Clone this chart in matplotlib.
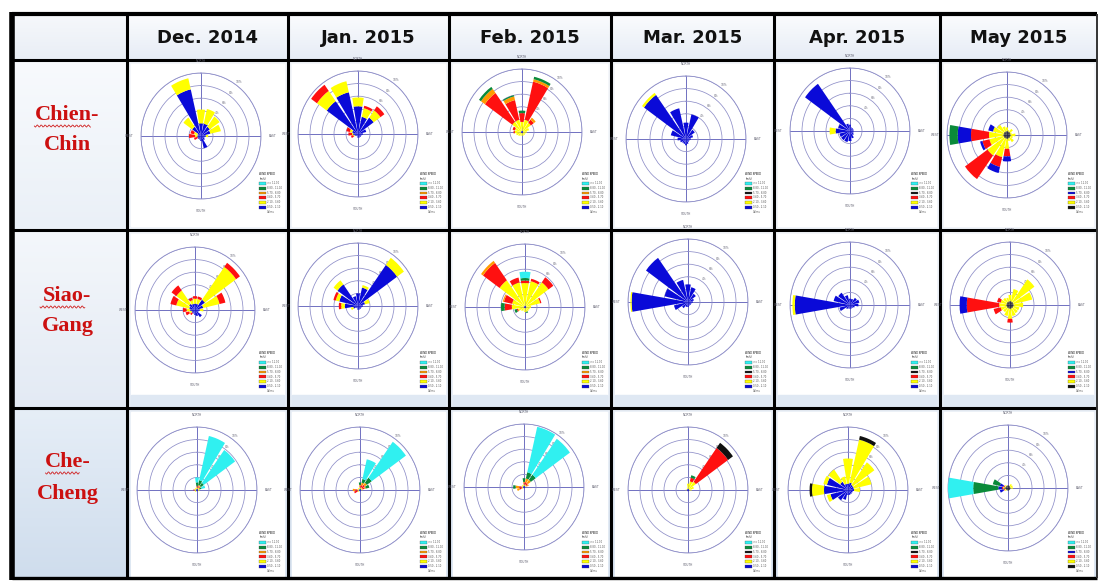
import numpy as np
import matplotlib
matplotlib.use('Agg')
import matplotlib.pyplot as plt
from matplotlib.patches import Rectangle, Patch

# ---------------- data ----------------
DIRS = ['N', 'NNE', 'NE', 'ENE', 'E', 'ESE', 'SE', 'SSE',
        'S', 'SSW', 'SW', 'WSW', 'W', 'WNW', 'NW', 'NNW']
MONTHS = ['Dec. 2014', 'Jan. 2015', 'Feb. 2015', 'Mar. 2015', 'Apr. 2015', 'May 2015']
STATIONS = [('Chien-', 'Chin'), ('Siao-', 'Gang'), ('Che-', 'Cheng')]
SPEED_LABELS = ['0.50 - 2.10', '2.10 - 3.60', '3.60 - 5.70',
                '5.70 - 8.80', '8.80 - 11.10', '>= 11.10']
RING_LABELS = ['', '4%', '6%', '8%', '10%']

BLUE, YELLOW, RED, ORANGE = '#0a0ad8', '#ffff00', '#ff1010', '#ff9a00'
GREEN, CYAN, BLACK = '#0a8a3a', '#30f0f0', '#101010'
PAL_A = [BLUE, YELLOW, RED, ORANGE, GREEN, CYAN]   # Dec - Feb
PAL_B = [BLUE, YELLOW, RED, BLACK, GREEN, CYAN]    # Mar - Apr
PAL_C = [BLACK, YELLOW, RED, BLUE, GREEN, CYAN]    # May
MONTH_PALETTES = [PAL_A, PAL_A, PAL_A, PAL_B, PAL_B, PAL_C]

# segment lengths (ring units, 5 = outer ring), directions N, NNE, ... NNW
CC_DEC = [[1.0, 1.1], [1.0, 1.2], [0.9, 1.0], [0.8, 0.9], [0.4, 0.2], [0.3], [0.4], [1.0],
          [0.4], [0.3], [0.3], [0.3, 0.0, 0.3], [0.3, 0.2, 0.5], [0.3, 0.3, 0.3], [0.9, 0.9], [3.8, 0.9]]
CC_JAN = [[2.2, 0.7], [1.4, 0.7, 0.2], [1.6, 0.7, 0.4], [0.7], [0.4], [0.3], [0.3], [0.3],
          [0.3], [0.2], [0.2], [0.3, 0.1, 0.2], [0.4, 0.1, 0.3], [0.5, 0.2, 0.3], [3.2, 1.0, 0.6], [3.4, 0.9]]
CC_FEB = [[0.1, 0.7, 0.7, 0.0, 0.2], [0.1, 0.9, 3.1, 0.2, 0.2], [0.1, 0.8, 0.3, 0.2], [0.1, 0.5],
          [0.1, 0.3], [0.1, 0.2], [0.1, 0.2], [0.1, 0.2], [0.1, 0.2], [0.1, 0.2], [0.1, 0.3], [0.1, 0.4],
          [0.1, 0.5, 0.1], [0.1, 0.5, 0.2], [0.1, 0.9, 2.8, 0.4, 0.2], [0.1, 0.9, 1.6, 0.3, 0.1]]
CC_MAR = [[1.3], [2.0], [0.9], [0.6], [0.4], [0.3], [0.3], [0.4],
          [0.5], [0.4], [0.4], [0.5], [0.7], [1.3], [4.3, 0.2], [2.5]]
CC_APR = [[0.5], [0.3], [0.3], [0.3], [0.3], [0.3], [0.4], [0.6],
          [0.8], [0.9], [0.9], [0.9], [1.2, 0.5], [1.0], [4.6], [0.6]]
CC_MAY = [[0.3, 0.3], [0.3, 0.1], [0.3, 0.3], [0.3, 0.1], [0.3, 0.4], [0.3, 0.2], [0.3, 0.4], [0.3, 0.2],
          [0.3, 0.8, 0.6, 0.4], [0.3, 1.5, 0.8, 0.5], [0.3, 1.7, 2.3], [0.3, 1.2, 0.6, 0.2],
          [0.3, 1.2, 1.5, 1.1, 0.7], [0.3, 0.9, 0.0, 0.4], [0.3, 0.7], [0.3, 0.4]]

SG_DEC = [[0.5, 0.4, 0.2], [0.5, 0.4, 0.2], [1.0, 3.2, 0.4], [0.7, 1.4, 0.5], [0.4, 0.3], [0.3], [0.7], [0.5],
          [0.4], [0.3], [0.3, 0.0, 0.2], [0.3, 0.2, 0.3], [0.4, 0.3, 0.3], [0.5, 1.1, 0.5], [0.6, 1.3, 0.5],
          [0.5, 0.3, 0.2]]
SG_JAN = [[1.0], [1.5, 0.2], [4.0, 0.7], [0.6, 0.4], [0.4], [0.3], [0.3], [0.3],
          [0.3], [0.2], [0.2], [0.4, 0.2], [1.1, 0.3, 0.2], [1.6, 0.3, 0.2], [2.1, 0.4], [0.8]]
SG_FEB = [[0.1, 1.8, 0.2, 0.0, 0.2, 0.5], [0.1, 2.0, 0.2], [0.1, 2.3, 0.5], [0.1, 1.2, 0.1], [0.1, 0.4],
          [0.1, 0.3], [0.1, 0.3], [0.1, 0.3, 0.0, 0.0, 0.1], [0.1, 0.3], [0.1, 0.2], [0.1, 0.3],
          [0.1, 0.5, 0.1, 0.0, 0.2], [0.1, 1.0, 0.6, 0.0, 0.3], [0.1, 1.0, 0.7, 0.1], [0.1, 2.5, 1.7, 0.2],
          [0.1, 1.9, 0.4]]
SG_MAR = [[1.4], [1.2], [0.8], [0.5], [0.4], [0.3], [0.3], [0.3],
          [0.4], [0.4], [0.6], [1.2], [4.7, 0.1], [2.0], [4.3], [1.8]]
SG_APR = [[0.5], [0.5], [0.7], [0.8], [0.7], [0.4], [0.3], [0.3],
          [0.3], [0.3], [0.4], [0.9], [4.6, 0.2], [1.4], [1.2], [0.8]]
SG_MAY = [[0.3, 0.5], [0.3, 1.0], [0.3, 2.2], [0.3, 1.6], [0.3, 0.8], [0.3, 0.5], [0.3, 0.5], [0.3, 0.6],
          [0.3, 0.8, 0.3], [0.3, 0.6], [0.3, 0.4], [0.3, 0.5, 0.6], [0.3, 0.6, 2.7, 0.6], [0.3, 0.5, 0.3],
          [0.3, 0.4], [0.3, 0.3]]

CH_DEC = [[0.1, 0.1, 0.1, 0.0, 0.3, 0.4], [0.1, 0.1, 0.1, 0.1, 0.4, 3.6], [0.1, 0.1, 0.1, 0.1, 0.3, 3.2],
          [0.1, 0.1, 0.0, 0.0, 0.2, 0.3], [0.1, 0.1], [0.1, 0.1], [0.1], [0.1], [0.1], [0.1], [0.1, 0.1],
          [0.1, 0.1], [0.1, 0.1, 0.1], [0.1, 0.1], [0.1, 0.1], [0.1, 0.1]]
CH_JAN = [[0.1, 0.1, 0.1, 0.1, 0.2], [0.1, 0.1, 0.2, 0.2, 0.3, 1.6], [0.1, 0.1, 0.3, 0.2, 0.5, 3.5],
          [0.1, 0.1, 0.2, 0.1, 0.3], [0.1, 0.1], [0.1], [0.1], [0.1], [0.1], [0.1], [0.1, 0.1],
          [0.1, 0.1, 0.3], [0.1, 0.1, 0.2, 0.2], [0.1, 0.1], [0.1, 0.1], [0.1, 0.1]]
CH_FEB = [[0.1, 0.1, 0.1, 0.1, 0.3], [0.1, 0.1, 0.2, 0.3, 0.5, 3.7], [0.1, 0.1, 0.2, 0.3, 0.5, 3.5],
          [0.1, 0.1, 0.1, 0.1], [0.1], [0.1], [0.1], [0.1], [0.1], [0.1], [0.1, 0.1],
          [0.1, 0.1, 0.2, 0.2], [0.1, 0.1, 0.2, 0.3, 0.2], [0.1, 0.1], [0.1, 0.1], [0.1, 0.1]]
CH_MAR = [[0.1, 0.4], [0.1, 0.6, 0.3, 0.0, 0.2], [0.1, 0.7, 3.3, 0.5], [0.1, 0.4], [0.1, 0.2], [0.1],
          [0.1], [0.1], [0.1], [0.1], [0.1], [0.1], [0.1, 0.1], [0.1], [0.1], [0.1, 0.1]]
CH_APR = [[0.5, 2.0], [0.6, 3.5, 0.0, 0.3], [0.5, 2.2], [0.5, 1.5], [0.5, 0.5], [0.4], [0.4], [0.4],
          [0.4], [0.8], [1.0], [1.5, 0.3], [2.0, 1.0, 0.0, 0.2], [1.8, 0.3], [0.8, 1.2], [0.5, 0.6]]
CH_MAY = [[0.2], [0.2], [0.2, 0.2], [0.2, 0.2], [0.2, 0.2], [0.2], [0.2], [0.2],
          [0.2], [0.2], [0.2, 0.1], [0.2, 0.1, 0.1, 0.3], [0.3, 0.1, 0.1, 0.3, 2.1, 2.1],
          [0.2, 0.1, 0.1, 0.3, 0.6], [0.2, 0.1], [0.2]]

ROSES = [[CC_DEC, CC_JAN, CC_FEB, CC_MAR, CC_APR, CC_MAY],
         [SG_DEC, SG_JAN, SG_FEB, SG_MAR, SG_APR, SG_MAY],
         [CH_DEC, CH_JAN, CH_FEB, CH_MAR, CH_APR, CH_MAY]]

# ---------------- layout ----------------
W, H = 1100, 582
XE = [12, 127, 288, 449, 611, 774, 940, 1097]
YE = [14, 60, 230, 408, 578]
CENTERS = [[(201, 136), (358, 134), (522, 132), (686, 139), (850, 131), (1007, 135)],
           [(195, 310), (358, 306), (525, 307), (688, 302), (850, 305), (1010, 305)],
           [(197, 490), (360, 490), (524, 487), (688, 490), (848, 490), (1008, 488)]]
RX, RY = 60, 63
RING = '#8e8ec8'
CROSS = '#4a4ab0'

fig = plt.figure(figsize=(W / 100, H / 100), dpi=100)
bg = fig.add_axes([0, 0, 1, 1])
bg.set_xlim(0, W)
bg.set_ylim(H, 0)
bg.axis('off')


def hex2rgb(c):
    c = c.lstrip('#')
    return np.array([int(c[i:i + 2], 16) / 255 for i in (0, 2, 4)])


def grad(x0, x1, y0, y1, ctop, cbot, z=0):
    t = np.linspace(0, 1, 64)[:, None, None]
    arr = (1 - t) * hex2rgb(ctop) + t * hex2rgb(cbot)
    arr = np.repeat(arr, 2, axis=1)
    bg.imshow(arr, extent=[x0, x1, y1, y0], aspect='auto', interpolation='bilinear', zorder=z)


# page
bg.add_patch(Rectangle((0, 0), W, H, color='white', zorder=-1))
# header row
grad(XE[0], XE[1], YE[0], YE[1], '#f6f8fb', '#e9eef5')
for j in range(6):
    grad(XE[j + 1], XE[j + 2], YE[0], YE[1], '#fbfcfe', '#e6ecf5')
# station column
lab_cols = [('#f8fafd', '#eaf0f7'), ('#f4f7fb', '#e3eaf4'), ('#e6eef7', '#cfdded')]
for i in range(3):
    grad(XE[0], XE[1], YE[i + 1], YE[i + 2], *lab_cols[i])
# rose cells
cell_cols = [('#f3f6fa', '#eef2f8'), ('#f3f6fa', '#e3ebf5'), ('#e9eff7', '#d6e2f0')]
for i in range(3):
    for j in range(6):
        x0, x1 = XE[j + 1], XE[j + 2]
        y0, y1 = YE[i + 1], YE[i + 2]
        grad(x0, x1, y0, y1, *cell_cols[i])
        if i == 0:
            bg.add_patch(Rectangle((x0 + 4, y0 + 4), x1 - x0 - 8, y1 - y0 - 8, color='white', zorder=1))
        elif i == 1:
            bg.add_patch(Rectangle((x0 + 4, y0 + 4), x1 - x0 - 8, 161, color='white', zorder=1))
            bg.add_patch(Rectangle((x0 + 4, y0 + 165), x1 - x0 - 8, y1 - y0 - 167, color='#dfe8f3', zorder=1))
        else:
            bg.add_patch(Rectangle((x0 + 4, y0 + 4), x1 - x0 - 8, y1 - y0 - 6, color='white', zorder=1))

# table lines
for x in XE[1:-1]:
    bg.plot([x, x], [YE[0], YE[-1]], color='black', lw=2.2, zorder=5, solid_capstyle='butt')
for y in YE[1:-1]:
    bg.plot([XE[0], XE[-1]], [y, y], color='black', lw=2.2, zorder=5, solid_capstyle='butt')
bg.plot([XE[0], XE[0]], [YE[0] - 2, YE[-1] + 2], color='black', lw=4.0, zorder=6, solid_capstyle='butt')
bg.plot([XE[0], XE[-1]], [YE[0], YE[0]], color='black', lw=3.0, zorder=6, solid_capstyle='butt')
bg.plot([XE[0], XE[-1]], [YE[-1], YE[-1]], color='black', lw=2.4, zorder=6, solid_capstyle='butt')
bg.plot([XE[-1], XE[-1]], [YE[0], YE[-1]], color='#333333', lw=1.4, zorder=6, solid_capstyle='butt')

# header texts
for j, m in enumerate(MONTHS):
    bg.text((XE[j + 1] + XE[j + 2]) / 2, (YE[0] + YE[1]) / 2 + 1, m, ha='center', va='center',
            fontsize=13, fontweight='bold', family='DejaVu Sans', color='#111111', zorder=7)

# station labels
LABEL_Y = [(115, 145), (296, 326), (462, 494)]
for i, (a, b) in enumerate(STATIONS):
    cx = (XE[0] + XE[1]) / 2 - 2
    ya, yb = LABEL_Y[i]
    bg.text(cx, ya, a, ha='center', va='center', fontsize=16, fontweight='bold',
            family='Liberation Serif', color='#cc1010', zorder=7)
    bg.text(cx, yb, b, ha='center', va='center', fontsize=16, fontweight='bold',
            family='Liberation Serif', color='#cc1010', zorder=7)
    # spell-check squiggle under the first word
    word_w = len(a.rstrip('-')) * 11.2
    full_w = len(a) * 11.2 + 1
    xs = np.linspace(cx - full_w / 2 + 1, cx - full_w / 2 + 1 + word_w, 60)
    bg.plot(xs, ya + 11 + 1.1 * np.sin((xs - xs[0]) * 1.6), color='#d02020', lw=0.6, zorder=7)

# ---------------- wind roses ----------------
theta = np.radians(np.arange(16) * 22.5)
width = np.radians(19)
for i in range(3):
    for j in range(6):
        rose = ROSES[i][j]
        pal = MONTH_PALETTES[j]
        cx, cy = CENTERS[i][j]
        ax = fig.add_axes([(cx - RX) / W, 1 - (cy + RY) / H, 2 * RX / W, 2 * RY / H], projection='polar')
        ax.set_aspect('auto')
        ax.set_facecolor('none')
        ax.set_theta_zero_location('N')
        ax.set_theta_direction(-1)
        ax.set_axisbelow(True)
        nseg = max(len(s) for s in rose)
        cum = np.zeros(16)
        for k in range(nseg):
            h = np.array([s[k] if len(s) > k else 0.0 for s in rose])
            ax.bar(theta, h, width=width, bottom=cum, color=pal[k], linewidth=0, zorder=3)
            cum += h
        ax.set_ylim(0, 5)
        ax.set_rgrids([1, 2, 3, 4, 5], labels=RING_LABELS, angle=35, fontsize=2.2, color='#707080')
        ax.set_xticks(np.radians([0, 90, 180, 270]))
        ax.set_xticklabels(['NORTH', 'EAST', 'SOUTH', 'WEST'], fontsize=2.2, color='#606070')
        ax.tick_params(axis='x', pad=-2)
        ax.yaxis.grid(True, color=RING, linewidth=0.55)
        ax.xaxis.grid(True, color=CROSS, linewidth=0.55)
        ax.spines['polar'].set_color(RING)
        ax.spines['polar'].set_linewidth(0.6)

        handles = [Patch(facecolor=c, edgecolor='#444444', linewidth=0.2) for c in pal[::-1]]
        labels = SPEED_LABELS[::-1]
        handles.append(Patch(facecolor='none', edgecolor='none'))
        labels.append('Calms')
        lx = XE[j + 2] - 6
        ly = [YE[2] - 16, 395 - 2, YE[4] - 5][i]
        ax.legend(handles, labels, loc='lower right', bbox_to_anchor=(lx / W, 1 - ly / H),
                  bbox_transform=fig.transFigure, fontsize=1.8, title='WIND SPEED\n(m/s)',
                  title_fontsize=1.8, frameon=False, handlelength=2.6, handleheight=1.3,
                  labelspacing=0.3, borderpad=0.1, handletextpad=0.4, borderaxespad=0,
                  alignment='left', labelcolor='#555555')

fig.savefig('out.png', dpi=100)
